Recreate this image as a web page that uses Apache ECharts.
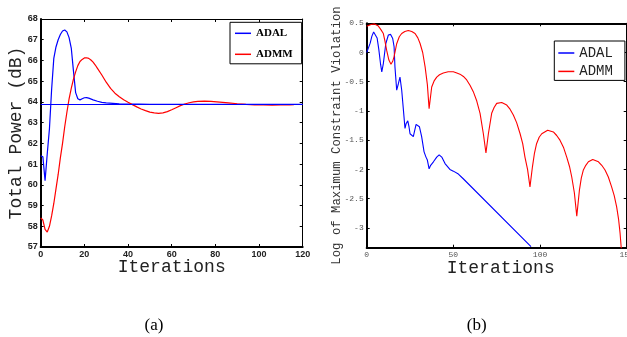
<!DOCTYPE html>
<html>
<head>
<meta charset="utf-8">
<script src="https://cdn.jsdelivr.net/npm/echarts@6/dist/echarts.min.js"></script>
<style>
html,body{margin:0;padding:0;background:#fff;}
#c{width:627px;height:337px;}
</style>
</head>
<body>
<div id="c"></div>
<script>
// ---- Data: (a) Total Power (dB) vs iterations ----
var adalPower = [[0,61.4],[1,61.35],[2,60.2],[3,61.5],[4,62.7],[5,64.6],[6,66.1],[7,66.65],[8,67.0],[9,67.25],[10,67.42],[11,67.47],[12,67.38],[13,67.1],[14,66.6],[15,65.5],[16,64.45],[17,64.15],[18,64.1],[19,64.15],[20,64.2],[21,64.21],[22,64.18],[24,64.1],[26,64.03],[28,63.98],[30,63.95],[33,63.93],[36,63.91],[40,63.9],[45,63.89],[50,63.88],[120,63.88]];
var admmPower = [[0,58.4],[1,58.3],[2,57.85],[3,57.72],[4,58.0],[5,58.5],[6,59.1],[7,59.8],[8,60.5],[9,61.3],[10,62.0],[11,62.8],[12,63.5],[13,64.15],[14,64.65],[15,65.1],[16,65.45],[17,65.75],[18,65.95],[19,66.05],[20,66.12],[21,66.13],[22,66.1],[23,66.02],[24,65.92],[25,65.78],[26,65.62],[28,65.3],[30,64.95],[32,64.65],[34,64.42],[36,64.25],[38,64.1],[40,63.98],[42,63.87],[44,63.76],[46,63.66],[48,63.58],[50,63.51],[52,63.47],[54,63.45],[56,63.47],[58,63.53],[60,63.62],[62,63.72],[64,63.82],[66,63.9],[68,63.96],[70,64.0],[72,64.03],[75,64.04],[78,64.03],[82,63.99],[86,63.95],[90,63.91],[94,63.88],[98,63.86],[102,63.85],[106,63.84],[110,63.85],[114,63.86],[116,63.87]];
var optimumPower = 63.88;

// ---- Data: (b) Log of maximum constraint violation ----
var adalViol = [[0,0],[1,0.08],[2,0.16],[3,0.28],[4,0.35],[4.5,0.355],[5,0.33],[6,0.25],[7,0.05],[8,-0.2],[8.7,-0.33],[9.6,-0.19],[11,0.15],[12.5,0.3],[13.8,0.31],[15,0.24],[15.8,0.1],[16.3,-0.245],[17.3,-0.645],[18.3,-0.53],[19.2,-0.42],[20.2,-0.645],[21.2,-0.99],[22.1,-1.3],[22.7,-1.22],[23.7,-1.17],[24.4,-1.27],[25,-1.39],[26,-1.39],[26.9,-1.44],[27.5,-1.36],[28.5,-1.23],[29.4,-1.22],[30.4,-1.27],[31.7,-1.44],[33.1,-1.7],[34.2,-1.79],[35,-1.84],[36,-1.99],[36.9,-1.93],[38.5,-1.87],[40.4,-1.79],[41.8,-1.75],[43.3,-1.79],[45.2,-1.9],[48,-2.0],[50,-2.03],[52.9,-2.08],[55.7,-2.16],[94.8,-3.32]];
var admmViol = [[0,0.45],[1,0.46],[2.5,0.48],[4.5,0.49],[6.5,0.46],[8,0.4],[9.6,0.325],[10.5,0.2],[11.5,0.04],[12.8,-0.13],[14,-0.2],[15,-0.15],[15.8,-0.07],[17.3,0.15],[18.8,0.27],[20.2,0.325],[22,0.36],[24,0.377],[26,0.36],[27.9,0.325],[29.5,0.25],[30.8,0.154],[32.3,0.0],[33.7,-0.245],[35,-0.55],[36,-0.96],[37.5,-0.59],[39,-0.48],[40.4,-0.42],[42,-0.38],[44.2,-0.35],[47,-0.33],[50,-0.33],[52,-0.35],[53.8,-0.37],[55.8,-0.41],[57.7,-0.47],[59.6,-0.56],[61.5,-0.67],[63.5,-0.83],[65.4,-1.04],[67.3,-1.39],[68.8,-1.72],[70.2,-1.39],[72.1,-1.04],[73.5,-0.94],[75,-0.87],[77.9,-0.856],[80.8,-0.9],[82.7,-0.97],[84.6,-1.07],[86.5,-1.2],[88.5,-1.39],[90,-1.56],[91.3,-1.79],[92.8,-2.0],[94.2,-2.3],[95.6,-1.96],[96.8,-1.72],[98,-1.56],[99.5,-1.45],[101,-1.39],[104.4,-1.33],[107.7,-1.36],[109.6,-1.42],[111.5,-1.5],[113.5,-1.62],[115.4,-1.79],[117,-1.95],[118.3,-2.13],[119.8,-2.4],[121.2,-2.8],[122.7,-2.36],[123.8,-2.15],[125,-2.01],[126.4,-1.93],[127.9,-1.87],[130.4,-1.83],[133.7,-1.87],[135.6,-1.93],[137.5,-2.01],[139.4,-2.13],[141.3,-2.3],[142.8,-2.45],[144.2,-2.64],[145.3,-2.85],[146.2,-3.1],[147,-3.4]];

// ---- Ticks / labels ----
var xTicksA = [0,20,40,60,80,100,120];
var yTicksA = [57,58,59,60,61,62,63,64,65,66,67,68];
var xTicksB = [0,50,100,150];
var yTicksB = [-3,-2.5,-2,-1.5,-1,-0.5,0,0.5];
var seriesNames = ['ADAL','ADMM'];
var panelLabels = ['(a)','(b)'];
var xNameA = 'Iterations', yNameA = 'Total Power (dB)';
var xNameB = 'Iterations', yNameB = 'Log of Maximum Constraint Violation';

var BLUE = '#0000ff', RED = '#ff0000';
var mono = 'Liberation Mono';

function frameAxis(grid, pos, w, extra){
  var a = {
    gridIndex: grid, type:'value', position: pos,
    axisLine: {show:true, onZero:false, lineStyle:{color:'#000', width:w}},
    axisTick: {show:true, inside:true, length:3, lineStyle:{color:'#000', width:1}},
    axisLabel: {show:false},
    splitLine: {show:false},
    nameMoveOverlap: false
  };
  for (var k in extra) a[k] = extra[k];
  return a;
}

var chart = echarts.init(document.getElementById('c'), null, {renderer:'canvas'});
chart.setOption({
  animation: false,
  backgroundColor: '#fff',
  grid: [
    {left:40.7, top:19, width:262, height:228, outerBoundsMode:'none', containLabel:false},
    {left:366.7, top:23.3, width:260, height:224.4, outerBoundsMode:'none', containLabel:false}
  ],
  xAxis: [
    frameAxis(0,'bottom',2,{min:0,max:120,
      axisTick:{show:true,inside:true,length:3,customValues:xTicksA,lineStyle:{color:'#000'}},
      axisLabel:{show:true,customValues:xTicksA,margin:3,fontFamily:'Liberation Sans',fontWeight:'bold',fontSize:9,color:'#222'},
      name:xNameA,nameLocation:'middle',nameGap:11.5,nameTextStyle:{fontFamily:mono,fontSize:18,color:'#222'}}),
    frameAxis(0,'top',1,{min:0,max:120,axisTick:{show:true,inside:true,length:3,customValues:xTicksA,lineStyle:{color:'#000'}}}),
    frameAxis(1,'bottom',2,{min:0,max:150,
      axisTick:{show:true,inside:true,length:3,customValues:xTicksB,lineStyle:{color:'#000'}},
      axisLabel:{show:true,customValues:xTicksB,margin:3,showMaxLabel:true,hideOverlap:false,fontFamily:mono,fontSize:8,color:'#555'},
      name:xNameB,nameLocation:'middle',nameGap:11.5,nameTextStyle:{fontFamily:mono,fontSize:18,color:'#222',padding:[0,0,0,8]}}),
    frameAxis(1,'top',2,{min:0,max:150,axisTick:{show:true,inside:true,length:3,customValues:xTicksB,lineStyle:{color:'#000'}}})
  ],
  yAxis: [
    frameAxis(0,'left',2,{min:57,max:68,
      axisTick:{show:true,inside:true,length:3,customValues:yTicksA,lineStyle:{color:'#000'}},
      axisLabel:{show:true,customValues:yTicksA,margin:3,fontFamily:'Liberation Sans',fontWeight:'bold',fontSize:9,color:'#222'},
      name:yNameA,nameLocation:'middle',nameGap:15,nameTextStyle:{fontFamily:mono,fontSize:18,color:'#222'}}),
    frameAxis(0,'right',1,{min:57,max:68,axisTick:{show:true,inside:true,length:3,customValues:yTicksA,lineStyle:{color:'#000'}}}),
    frameAxis(1,'left',2,{min:-3.34,max:0.5,
      axisTick:{show:true,inside:true,length:3,customValues:yTicksB,lineStyle:{color:'#000'}},
      axisLabel:{show:true,customValues:yTicksB,margin:3,fontFamily:mono,fontSize:8,color:'#555'},
      name:yNameB,nameLocation:'middle',nameGap:24,nameTextStyle:{fontFamily:mono,fontSize:12.3,color:'#333'}}),
    frameAxis(1,'right',1,{min:-3.34,max:0.5,axisTick:{show:true,inside:true,length:3,customValues:yTicksB,lineStyle:{color:'#000'}}})
  ],
  legend: [
    {data:seriesNames, selectedMode:false, orient:'vertical', left:230, top:22.3,
     borderColor:'#000', borderWidth:1, backgroundColor:'#fff', padding:[5.5,9,4,5],
     itemGap:10, itemWidth:16, itemHeight:1.5, icon:'rect',
     textStyle:{fontFamily:'Liberation Serif', fontWeight:'bold', fontSize:11, color:'#000'}},
    {data:seriesNames, selectedMode:false, orient:'vertical', left:554.3, top:41,
     borderColor:'#000', borderWidth:1, backgroundColor:'#fff', padding:[5,12,2,4],
     itemGap:4.4, itemWidth:16, itemHeight:1.5, icon:'rect',
     textStyle:{fontFamily:mono, fontSize:14, color:'#222'}}
  ],
  series: [
    {name:seriesNames[0], type:'line', xAxisIndex:0, yAxisIndex:0, data:adalPower, symbol:'none',
     lineStyle:{color:BLUE,width:1.2}, itemStyle:{color:BLUE},
     markLine:{silent:true, symbol:'none', label:{show:false}, lineStyle:{color:BLUE,type:'solid',width:1.2},
       data:[{yAxis:optimumPower}]}},
    {name:seriesNames[1], type:'line', xAxisIndex:0, yAxisIndex:0, data:admmPower, symbol:'none',
     lineStyle:{color:RED,width:1.2}, itemStyle:{color:RED}},
    {name:seriesNames[0], type:'line', xAxisIndex:2, yAxisIndex:2, data:adalViol, symbol:'none',
     lineStyle:{color:BLUE,width:1.1}, itemStyle:{color:BLUE}},
    {name:seriesNames[1], type:'line', xAxisIndex:2, yAxisIndex:2, data:admmViol, symbol:'none',
     lineStyle:{color:RED,width:1.1}, itemStyle:{color:RED}}
  ],
  graphic: [
    {type:'text', x:154, y:326, style:{text:panelLabels[0], font:'17px "Liberation Serif"', fill:'#000', textAlign:'center', textVerticalAlign:'middle'}},
    {type:'text', x:476.7, y:326, style:{text:panelLabels[1], font:'17px "Liberation Serif"', fill:'#000', textAlign:'center', textVerticalAlign:'middle'}}
  ]
});
</script>
</body>
</html>
